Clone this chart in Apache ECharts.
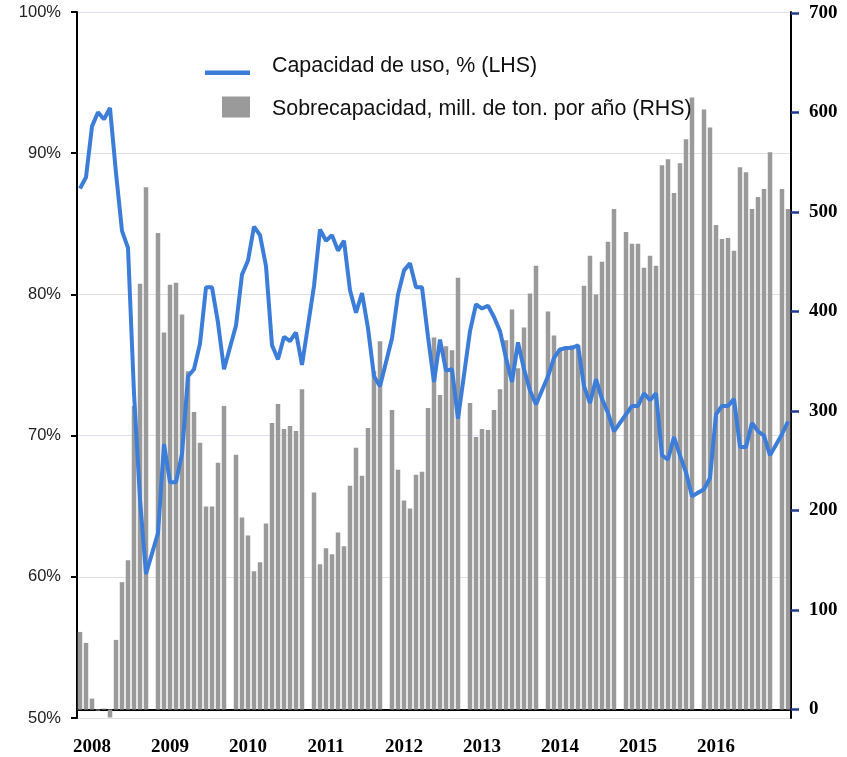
<!DOCTYPE html>
<html>
<head>
<meta charset="utf-8">
<script src="https://cdn.jsdelivr.net/npm/echarts@6/dist/echarts.min.js"></script>
<style>
html,body{margin:0;padding:0;background:#fff;}
#chart{width:847px;height:757px;}
</style>
</head>
<body>
<div id="chart"></div>
<script>
// Years shown (each year separated by an empty slot, as in the original)
const years = [2008, 2009, 2010, 2011, 2012, 2013, 2014, 2015, 2016, 2017];

// Overcapacity, million tonnes per year (RHS) - monthly
const overcap2008 = [78, 67, 11, -1, 1, -8, 70, 128, 150, 305, 428, 525];
const overcap2009 = [479, 379, 427, 429, 397, 340, 299, 268, 204, 204, 248, 305];
const overcap2010 = [256, 193, 175, 139, 148, 187, 288, 307, 282, 285, 280, 322];
const overcap2011 = [218, 146, 162, 156, 178, 164, 225, 263, 235, 283, 340, 370];
const overcap2012 = [301, 241, 210, 202, 236, 239, 303, 374, 316, 365, 361, 434];
const overcap2013 = [308, 274, 282, 281, 301, 322, 371, 402, 343, 384, 418, 446];
const overcap2014 = [400, 376, 363, 365, 366, 366, 426, 456, 417, 450, 470, 503];
const overcap2015 = [480, 468, 468, 444, 456, 446, 547, 553, 519, 549, 573, 615];
const overcap2016 = [603, 585, 487, 473, 474, 461, 545, 540, 503, 515, 523, 560];
const overcap2017 = [523, 503];

// Capacity utilisation, % (LHS) - monthly
const util2008 = [87.5, 88.3, 91.9, 92.9, 92.4, 93.2, 88.6, 84.5, 83.3, 73.0, 65.5, 60.2];
const util2009 = [63.1, 69.4, 66.7, 66.7, 68.7, 74.2, 74.7, 76.5, 80.5, 80.5, 78.0, 74.7];
const util2010 = [77.8, 81.4, 82.4, 84.8, 84.2, 82.0, 76.4, 75.4, 77.0, 76.7, 77.3, 75.0];
const util2011 = [80.6, 84.6, 83.8, 84.2, 83.1, 83.8, 80.3, 78.7, 80.1, 77.6, 74.2, 73.5];
const util2012 = [76.9, 80.0, 81.7, 82.2, 80.5, 80.5, 77.0, 73.8, 76.8, 74.6, 74.7, 71.2];
const util2013 = [77.4, 79.3, 79.0, 79.2, 78.4, 77.4, 75.5, 73.8, 76.6, 74.7, 73.2, 72.2];
const util2014 = [74.2, 75.5, 76.1, 76.2, 76.2, 76.4, 73.5, 72.3, 74.0, 72.6, 71.6, 70.3];
const util2015 = [71.5, 72.1, 72.1, 73.0, 72.5, 73.0, 68.6, 68.3, 69.9, 68.6, 67.4, 65.7];
const util2016 = [66.2, 67.0, 71.5, 72.1, 72.1, 72.6, 69.2, 69.2, 70.9, 70.3, 70.0, 68.6];
const util2017 = [70.1, 71.0];

// Axis tick values
const rhsTicks = [0, 100, 200, 300, 400, 500, 600, 700];

const lineName = 'Capacidad de uso, % (LHS)';
const barName = 'Sobrecapacidad, mill. de ton. por año (RHS)';

const overcapByYear = [overcap2008, overcap2009, overcap2010, overcap2011, overcap2012,
  overcap2013, overcap2014, overcap2015, overcap2016, overcap2017];
const utilByYear = [util2008, util2009, util2010, util2011, util2012,
  util2013, util2014, util2015, util2016, util2017];

const categories = [], barData = [], lineData = [];
years.forEach((y, i) => {
  if (i > 0) { categories.push('gap-' + y); barData.push(null); lineData.push(null); }
  overcapByYear[i].forEach((v, m) => {
    categories.push(y + '-' + String(m + 1).padStart(2, '0'));
    barData.push(v);
    lineData.push(utilByYear[i][m]);
  });
});

const lineColor = '#3b7dd8';
const barColor = '#9a9a9a';

const chart = echarts.init(document.getElementById('chart'), null, {renderer: 'canvas'});
chart.setOption({
  animation: false,
  backgroundColor: '#ffffff',
  grid: {left: 77, right: 56, top: 12, bottom: 34, containLabel: false},
  legend: [
    {
      data: [{name: lineName, icon: 'path://M0,0L0.01,0M0,13.5L45,13.5L45,18L0,18Z'}],
      left: 205, top: 55.5, padding: 0,
      itemWidth: 45, itemHeight: 18, selectedMode: false,
      itemStyle: {borderWidth: 0},
      textStyle: {fontFamily: 'Liberation Sans', fontSize: 21.4, color: '#111', padding: [0, 0, 0, 17]}
    },
    {
      data: [{name: barName, icon: 'path://M0,0L28,0L28,21L0,21ZM0,26L0.01,26'}],
      left: 222, top: 96.5, padding: 0,
      itemWidth: 28, itemHeight: 26, selectedMode: false,
      itemStyle: {borderWidth: 0},
      textStyle: {fontFamily: 'Liberation Sans', fontSize: 21.4, color: '#111', padding: [0, 0, 0, 17]}
    }
  ],
  xAxis: {
    type: 'category',
    data: categories,
    boundaryGap: true,
    axisLine: {show: true, onZero: true, onZeroAxisIndex: 1, lineStyle: {color: '#000', width: 2}},
    axisTick: {show: false},
    splitLine: {show: false},
    axisLabel: {
      interval: (idx) => idx % 13 === 2 && idx < 117,
      formatter: (v) => v.slice(0, 4),
      fontFamily: 'Liberation Serif', fontWeight: 'bold', fontSize: 19, color: '#000',
      margin: 20
    }
  },
  yAxis: [
    {
      type: 'value', position: 'left', min: 50, max: 100, interval: 10,
      axisLine: {show: true, lineStyle: {color: '#000', width: 2}},
      axisTick: {show: true, length: 6, lineStyle: {color: '#000', width: 2}},
      axisLabel: {formatter: '{value}%', fontFamily: 'Liberation Sans', fontSize: 16.5, color: '#222', margin: 16},
      splitLine: {show: true, lineStyle: {color: '#dde1ea', width: 1}}
    },
    {
      type: 'value', position: 'right', min: -8.5, max: 701,
      axisLine: {show: true, lineStyle: {color: '#000', width: 2}},
      axisTick: {show: true, length: 8, customValues: rhsTicks, lineStyle: {color: '#1f3a93', width: 2.5}},
      axisLabel: {customValues: rhsTicks, fontFamily: 'Liberation Serif', fontWeight: 'bold', fontSize: 19, color: '#000', margin: 18},
      splitLine: {show: false}
    }
  ],
  series: [
    {
      name: barName, type: 'bar', yAxisIndex: 1, data: barData,
      barWidth: '75%', itemStyle: {color: barColor}, z: 2
    },
    {
      name: lineName, type: 'line', yAxisIndex: 0, data: lineData,
      connectNulls: true, symbol: 'none', showSymbol: false,
      lineStyle: {color: lineColor, width: 4}, itemStyle: {color: lineColor}, z: 3
    }
  ]
});
</script>
</body>
</html>
